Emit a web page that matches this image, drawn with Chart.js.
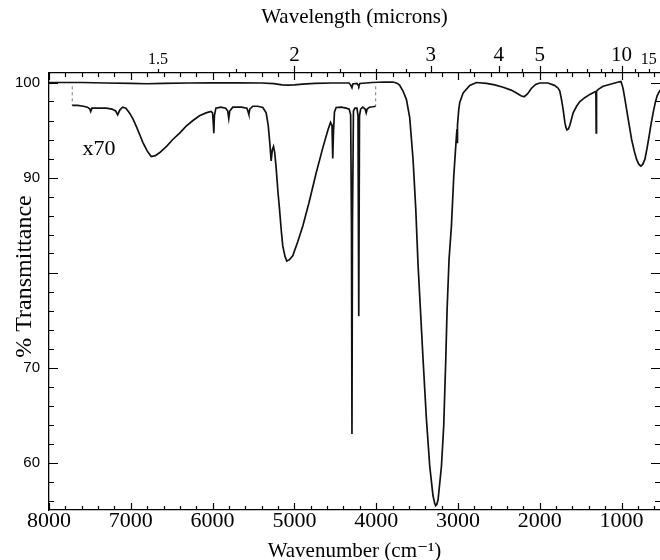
<!DOCTYPE html>
<html>
<head>
<meta charset="utf-8">
<script src="https://cdn.jsdelivr.net/npm/chart.js@4.4.1/dist/chart.umd.min.js"></script>
<style>
  html, body { margin: 0; padding: 0; background: #fff; overflow: hidden; }
  #wrap { width: 660px; height: 560px; position: relative; }
</style>
</head>
<body>
<div id="wrap"><canvas id="irChart"></canvas></div>
<script>
// 全体スペクトル（波数 cm-1 / 透過率 %）
const mainWavenumber = [
  8000, 7600, 7300, 7000, 6800, 6600, 6300, 6000, 5700, 5400,
  5250, 5150, 5080, 5000, 4900, 4750, 4550, 4330, 4310, 4296,
  4285, 4235, 4222, 4212, 4200, 4050, 3900, 3800, 3773, 3740,
  3712, 3672, 3630, 3590, 3549, 3516, 3488, 3459, 3427, 3386,
  3345, 3305, 3285, 3272, 3258, 3243, 3202, 3174, 3149, 3133,
  3109, 3080, 3051, 3027, 3016, 3011, 3008, 3004, 2990, 2978,
  2937, 2856, 2774, 2651, 2550, 2448, 2350, 2284, 2230, 2192,
  2150, 2101, 2050, 2000, 1900, 1820, 1775, 1755, 1734, 1715,
  1693, 1681, 1667, 1650, 1632, 1592, 1550, 1510, 1450, 1388,
  1330, 1314, 1310, 1306, 1280, 1225, 1103, 1040, 1008, 995,
  980, 960, 939, 910, 877, 845, 816, 790, 764, 740,
  715, 690, 662, 640, 614, 590, 565, 530
];
const mainTransmittance = [
  100, 100, 99.95, 99.9, 99.87, 99.9, 99.95, 99.97, 99.97, 99.95,
  99.88, 99.76, 99.72, 99.75, 99.83, 99.9, 99.95, 99.95, 99.7, 99.45,
  99.85, 99.9, 99.75, 99.62, 99.9, 100, 100.05, 100.05, 100, 99.9,
  99.7, 99.1, 98.2, 96.3, 91.9, 86.7, 80.8, 76.1, 70.9, 64.6,
  59.6, 56.5, 55.7, 55.45, 55.6, 56.1, 59.6, 63.9, 70.9, 76.1,
  81.4, 84.9, 90.2, 93.3, 94.7, 95.1, 93.6, 95.5, 97.2, 97.9,
  98.9, 99.7, 100, 99.9, 99.75, 99.5, 99.2, 98.9, 98.6, 98.5,
  98.8, 99.4, 99.8, 99.95, 99.95, 99.7, 99.4, 99.1, 98.2, 97.2,
  95.8, 95.3, 95.0, 95.1, 95.5, 96.8, 97.5, 98.0, 98.4, 98.75,
  99.0, 99.05, 94.7, 99.1, 99.3, 99.6, 99.9, 100.05, 100.1, 99.8,
  99.3, 98.3, 97.2, 95.7, 94.0, 92.8, 91.9, 91.4, 91.2, 91.4,
  91.9, 93.0, 94.4, 95.6, 96.8, 97.8, 98.6, 99.2
];

// 70倍に拡大したスペクトル（近赤外部分）
const x70Wavenumber = [
  7716, 7650, 7580, 7530, 7500, 7490, 7475, 7400, 7300, 7230,
  7185, 7160, 7135, 7100, 7060, 7016, 6975, 6934, 6890, 6853,
  6800, 6751, 6700, 6649, 6560, 6487, 6400, 6323, 6240, 6160,
  6080, 6020, 6000, 5990, 5985, 5978, 5960, 5900, 5840, 5815,
  5802, 5790, 5753, 5650, 5580, 5565, 5557, 5545, 5508, 5450,
  5386, 5345, 5320, 5300, 5284, 5270, 5255, 5240, 5222, 5200,
  5182, 5160, 5142, 5115, 5093, 5060, 5020, 4960, 4897, 4820,
  4733, 4650, 4590, 4558, 4540, 4531, 4522, 4510, 4489, 4428,
  4367, 4330, 4312, 4302, 4296, 4290, 4278, 4260, 4235, 4222,
  4213, 4204, 4190, 4164, 4135, 4122, 4110, 4082, 4040, 4006
];
const x70Transmittance = [
  97.6, 97.6, 97.5, 97.4, 97.2, 96.95, 97.3, 97.3, 97.3, 97.2,
  97.0, 96.6, 97.1, 97.4, 97.3, 96.8, 96.2, 95.4, 94.5, 93.7,
  92.8, 92.2, 92.3, 92.6, 93.3, 94.0, 94.7, 95.4, 96.0, 96.5,
  96.8, 96.95, 96.8, 95.5, 94.66, 96.5, 97.3, 97.4, 97.3, 97.0,
  96.2, 97.0, 97.4, 97.4, 97.3, 96.9, 96.66, 97.2, 97.5, 97.5,
  97.37, 96.8, 95.5, 93.6, 91.75, 92.9, 93.26, 92.6, 90.9, 88.4,
  86.7, 84.4, 82.8, 81.7, 81.2, 81.35, 81.75, 83.2, 84.9, 87.4,
  90.5, 93.2, 95.0, 95.8, 95.5, 92.0, 94.8, 96.9, 97.37, 97.4,
  97.3, 97.2, 96.6, 85.0, 63.0, 85.0, 97.0, 97.3, 97.3, 96.5,
  75.4, 96.5, 97.2, 97.4, 97.2, 96.8, 97.2, 97.4, 97.45, 97.5
];

// 拡大範囲の端を示す破線
const guideLeftWavenumber = [7716, 7716];
const guideLeftTransmittance = [99.6, 97.6];
const guideRightWavenumber = [4006, 4006];
const guideRightTransmittance = [99.6, 97.5];

// 目盛り（80 は縦軸タイトルと重なるのでラベルなし）
const wavenumberTicks = [1000, 2000, 3000, 4000, 5000, 6000, 7000, 8000];
const transmittanceTicks = [60, 70, 90, 100];
const wavelengthLabels = [15, 10, 5, 4, 3, 2, 1.5];
const wavelengthMinor = [12, 9, 8, 7, 6, 4.5, 3.5, 2.75, 2.5, 2.25, 1.75];
const smallWavelengthLabels = [1.5, 15];

const serif = '"Liberation Serif", "DejaVu Serif", serif';
const sans = '"Liberation Sans", Arial, sans-serif';

function toPoints(xs, ys) {
  return xs.map((x, i) => ({ x: x, y: ys[i] }));
}

function wavelengthOf(wn) {
  return Math.round(10000 / wn * 100) / 100;
}

// 目盛り線（内向き）と「x70」の文字を描く
const tickMarks = {
  id: 'tickMarks',
  afterDraw(chart) {
    const { ctx, chartArea: a, scales } = chart;
    const xs = scales.x, ys = scales.y;
    ctx.save();
    ctx.strokeStyle = '#000';
    ctx.lineWidth = 1.2;
    ctx.beginPath();
    // 波数の目盛り（下と上）
    for (let w = 600; w <= 8000; w += 200) {
      const px = Math.round(xs.getPixelForValue(w)) + 0.5;
      const len = w % 1000 === 0 ? 7 : 4;
      ctx.moveTo(px, a.bottom); ctx.lineTo(px, a.bottom - len);
      ctx.moveTo(px, a.top); ctx.lineTo(px, a.top + len);
    }
    // 波長の目盛り（上、外向き）
    wavelengthLabels.concat(wavelengthMinor).forEach(function (lam) {
      const px = Math.round(xs.getPixelForValue(10000 / lam)) + 0.5;
      const len = wavelengthLabels.includes(lam) && !smallWavelengthLabels.includes(lam) ? 7 : 4;
      ctx.moveTo(px, a.top); ctx.lineTo(px, a.top - len);
    });
    // 透過率の目盛り（左と右）
    for (let v = 56; v <= 100; v += 2) {
      const py = Math.round(ys.getPixelForValue(v)) + 0.5;
      const len = v % 10 === 0 ? 9 : 5;
      ctx.moveTo(a.left, py); ctx.lineTo(a.left + len, py);
      ctx.moveTo(a.right, py); ctx.lineTo(a.right - len, py);
    }
    ctx.stroke();

    ctx.fillStyle = '#000';
    ctx.font = '22px ' + serif;
    ctx.textAlign = 'left';
    ctx.textBaseline = 'middle';
    ctx.fillText('x70', xs.getPixelForValue(7590), ys.getPixelForValue(93.0));
    ctx.restore();
  }
};

const lineStyle = { borderColor: '#111', borderWidth: 1.7, pointRadius: 0, tension: 0, fill: false };
const guideStyle = { borderColor: '#777', borderWidth: 1, borderDash: [3, 3], pointRadius: 0, fill: false };

const axisBorder = { display: true, color: '#000', width: 1.3 };
const noGrid = { display: false, drawTicks: false };

new Chart(document.getElementById('irChart'), {
  type: 'line',
  data: {
    datasets: [
      Object.assign({ label: 'spectrum', data: toPoints(mainWavenumber, mainTransmittance) }, lineStyle),
      Object.assign({ label: 'x70', data: toPoints(x70Wavenumber, x70Transmittance) }, lineStyle),
      Object.assign({ label: 'guideL', data: toPoints(guideLeftWavenumber, guideLeftTransmittance) }, guideStyle),
      Object.assign({ label: 'guideR', data: toPoints(guideRightWavenumber, guideRightTransmittance) }, guideStyle)
    ]
  },
  options: {
    responsive: true,
    maintainAspectRatio: false,
    animation: false,
    events: [],
    layout: { padding: 0 },
    plugins: { legend: { display: false }, tooltip: { enabled: false } },
    scales: {
      x: {
        type: 'linear',
        position: 'bottom',
        min: 530,
        max: 8000,
        reverse: true,
        grid: noGrid,
        border: axisBorder,
        afterBuildTicks: function (scale) {
          scale.ticks = wavenumberTicks.map(v => ({ value: v }));
        },
        afterFit: function (scale) { scale.height = 50; },
        ticks: {
          autoSkip: false,
          maxRotation: 0,
          padding: 0,
          color: '#000',
          font: { family: serif, size: 22, lineHeight: 1.0 },
          callback: v => String(v)
        },
        title: {
          display: true,
          text: 'Wavenumber (cm\u207B\u00B9)',
          color: '#000',
          font: { family: serif, size: 21, lineHeight: 0.8 },
          padding: 0
        }
      },
      x2: {
        type: 'linear',
        position: 'top',
        min: 530,
        max: 8000,
        reverse: true,
        grid: noGrid,
        border: axisBorder,
        afterBuildTicks: function (scale) {
          scale.ticks = wavelengthLabels.map(l => ({ value: 10000 / l }));
        },
        afterFit: function (scale) { scale.height = 73; },
        ticks: {
          autoSkip: false,
          maxRotation: 0,
          padding: 5,
          color: '#000',
          font: function (c) {
            const lam = c.tick ? wavelengthOf(c.tick.value) : 2;
            return smallWavelengthLabels.includes(lam)
              ? { family: serif, size: 16, lineHeight: 1.0 }
              : { family: serif, size: 21, lineHeight: 1.2 };
          },
          callback: v => String(wavelengthOf(v))
        },
        title: {
          display: true,
          text: 'Wavelength (microns)',
          color: '#000',
          font: { family: serif, size: 21, lineHeight: 1.2 },
          padding: { top: 5, bottom: 0 }
        }
      },
      y: {
        type: 'linear',
        position: 'left',
        min: 55,
        max: 101,
        grid: noGrid,
        border: axisBorder,
        afterBuildTicks: function (scale) {
          scale.ticks = transmittanceTicks.map(v => ({ value: v }));
        },
        afterFit: function (scale) { scale.width = 49; },
        ticks: {
          padding: 9,
          color: '#000',
          font: { family: sans, size: 15 },
          callback: v => String(v)
        },
        title: {
          display: true,
          // 先頭の空白で文字列を少し上へ寄せる
          text: '     % Transmittance',
          color: '#000',
          font: { family: serif, size: 24, lineHeight: 1.2 },
          padding: { top: 10, bottom: 0 }
        }
      }
    }
  },
  plugins: [tickMarks]
});
</script>
</body>
</html>
